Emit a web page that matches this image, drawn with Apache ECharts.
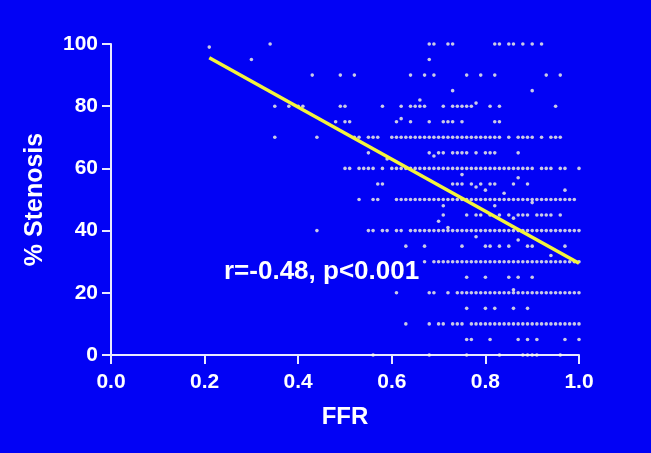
<!DOCTYPE html>
<html>
<head>
<meta charset="utf-8">
<script src="https://cdn.jsdelivr.net/npm/echarts@6/dist/echarts.min.js"></script>
<style>
html,body{margin:0;padding:0;background:#0202f5;}
#chart{width:651px;height:453px;}
</style>
</head>
<body>
<div id="chart"></div>
<script>
// FFR values (in hundredths) observed at each % stenosis level
const ffrAt100 = [34,68,69,72,73,82,83,85,86,88,90,92];
const ffrAt95 = [30,68];
const ffrAt90 = [43,49,52,64,67,69,76,79,82,93,96];
const ffrAt85 = [73,90];
const ffrAt80 = [35,38,40,41,49,50,58,62,64,65,66,67,71,73,74,75,76,77,81,83,95];
const ffrAt75 = [48,50,51,61,64,68,71,72,73,75,82,83];
const ffrAt70 = [35,44,52,53,55,56,57,60,61,62,63,64,65,66,67,68,69,70,71,72,73,74,75,76,77,78,79,80,81,82,83,85,87,88,89,90,92,94,95,96];
const ffrAt65 = [55,68,70,71,73,74,75,76,78,80,81,82,87];
const ffrAt60 = [50,51,53,54,55,56,58,60,61,62,63,64,65,66,67,68,69,70,71,72,73,74,75,76,77,78,79,80,81,82,83,84,85,86,87,88,89,90,92,93,94,96,97,100];
const ffrAt55 = [57,58,73,74,75,77,79,81,82,86,89];
const ffrAt50 = [53,56,57,61,62,63,64,65,66,67,68,69,70,71,72,73,74,75,76,77,78,79,80,81,82,83,84,85,86,87,88,89,90,91,92,93,94,95,96,97,98,99];
const ffrAt45 = [71,76,78,79,81,83,85,87,88,89,91,92,93,94,96];
const ffrAt40 = [44,55,56,58,59,61,62,64,65,66,67,68,69,70,71,72,73,74,75,76,77,78,79,80,81,82,83,84,85,86,87,88,89,90,91,92,93,94,95,96,97,98,99,100];
const ffrAt35 = [63,67,75,80,81,83,85,89,90,97];
const ffrAt30 = [67,69,70,71,72,73,74,75,76,77,78,79,80,81,82,83,84,85,86,87,88,89,90,91,92,93,94,95,96,97,98,99,100];
const ffrAt25 = [76,80,85,87,90];
const ffrAt20 = [61,68,69,72,74,75,76,77,78,79,80,81,82,83,84,85,86,87,88,89,90,91,92,93,94,95,96,97,98,99,100];
const ffrAt15 = [76,80,82,86,89];
const ffrAt10 = [63,68,70,71,73,74,75,77,78,79,80,81,82,83,84,85,86,87,88,89,90,91,92,93,94,95,96,97,98,99,100];
const ffrAt5 = [76,77,81,87,89,91,97,100];
const ffrAt0 = [56,68,76,83,88,89,90,91,96];
// isolated points off the 5% grid: [FFR hundredths, % stenosis]
const otherPoints = [[21,99],[66,82],[78,81],[62,76],[69,64],[59,63],[75,58],[87,57],[78,54],[80,53],[97,53],[84,52],[90,49],[71,48],[82,48],[86,44],[70,43],[72,41],[78,38],[87,37],[94,32],[86,21]];

const stenosisLevels = [100,95,90,85,80,75,70,65,60,55,50,45,40,35,30,25,20,15,10,5,0];
const ffrRows = [ffrAt100,ffrAt95,ffrAt90,ffrAt85,ffrAt80,ffrAt75,ffrAt70,ffrAt65,ffrAt60,ffrAt55,ffrAt50,ffrAt45,ffrAt40,ffrAt35,ffrAt30,ffrAt25,ffrAt20,ffrAt15,ffrAt10,ffrAt5,ffrAt0];

// regression line endpoints
const fitFFR = [0.21, 1.0];
const fitStenosis = [95.6, 29.5];

const xTicks = [0.0, 0.2, 0.4, 0.6, 0.8, 1.0];
const yTicks = [0, 20, 40, 60, 80, 100];
const annotation = 'r=-0.48, p<0.001';

const scatter = [];
ffrRows.forEach((row, i) => row.forEach(f => scatter.push([f / 100, stenosisLevels[i]])));
otherPoints.forEach(p => scatter.push([p[0] / 100, p[1]]));

const chart = echarts.init(document.getElementById('chart'));
const axisColor = '#e8e8ff';
const font = 'Liberation Sans, Arial, sans-serif';
chart.setOption({
  backgroundColor: '#0202f5',
  animation: false,
  grid: {left: 111, right: 72, top: 44, bottom: 98},
  xAxis: {
    type: 'value', min: xTicks[0], max: xTicks[xTicks.length - 1], interval: 0.2,
    name: 'FFR', nameLocation: 'middle', nameGap: 50,
    nameTextStyle: {color: '#ffffff', fontSize: 24, fontWeight: 'bold', fontFamily: font},
    axisLine: {show: true, lineStyle: {color: axisColor, width: 2}},
    axisTick: {show: true, length: 9, lineStyle: {color: axisColor, width: 2}},
    splitLine: {show: false},
    axisLabel: {color: '#ffffff', fontSize: 21, fontWeight: 'bold', fontFamily: font, margin: 17,
      formatter: v => v.toFixed(1)}
  },
  yAxis: {
    type: 'value', min: yTicks[0], max: yTicks[yTicks.length - 1], interval: 20,
    name: '% Stenosis', nameLocation: 'middle', nameGap: 63, nameRotate: 90,
    nameTextStyle: {color: '#ffffff', fontSize: 25, fontWeight: 'bold', fontFamily: font},
    axisLine: {show: true, lineStyle: {color: axisColor, width: 2}},
    axisTick: {show: true, length: 9, lineStyle: {color: axisColor, width: 2}},
    splitLine: {show: false},
    axisLabel: {color: '#ffffff', fontSize: 21, fontWeight: 'bold', fontFamily: font, margin: 13}
  },
  series: [
    {
      type: 'scatter', data: scatter, symbol: 'circle', symbolSize: 3.6,
      itemStyle: {color: '#fdfde2'}, z: 3
    },
    {
      type: 'line', data: fitFFR.map((x, i) => [x, fitStenosis[i]]), symbol: 'none',
      lineStyle: {color: '#f4f43c', width: 3.5}, z: 4
    }
  ],
  graphic: [{
    type: 'text', left: 224, top: 259,
    style: {text: annotation, fill: '#ffffff', font: 'bold 26px ' + font}
  }]
});
</script>
</body>
</html>
